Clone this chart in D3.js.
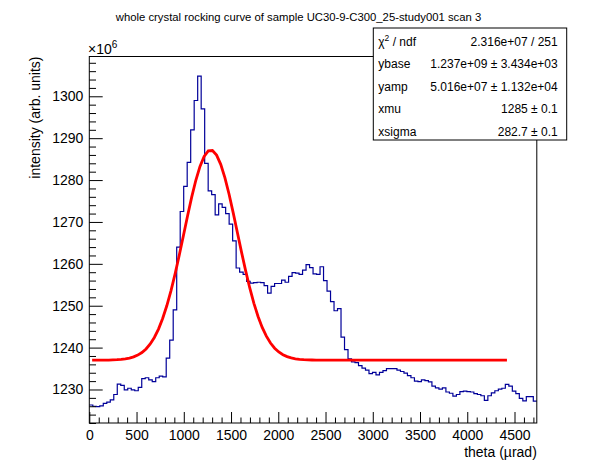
<!DOCTYPE html>
<html><head><meta charset="utf-8">
<script src="https://cdn.jsdelivr.net/npm/d3@7"></script>
<style>
body{margin:0;background:#fff}
svg{display:block}
text{font-family:"Liberation Sans",Arial,Helvetica,sans-serif}
</style>
</head><body>
<svg id="c" width="596" height="472"></svg>
<script>
// ---- data ----
const titleText = "whole crystal rocking curve of sample UC30-9-C300_25-study001 scan 3";
const xTitle = "theta (\u00b5rad)";
const yTitle = "intensity (arb. units)";
const binWidth = 37;            // µrad
const xDomain = [0, 4736];
const yDomain = [1222, 1309.5]; // ×10^6
const xMajorTicks = [0, 500, 1000, 1500, 2000, 2500, 3000, 3500, 4000, 4500];
const yMajorTicks = [1230, 1240, 1250, 1260, 1270, 1280, 1290, 1300];
// bin contents (×10^6)
const counts = [
 1226.3,1226.0,1225.9,1226.1,1226.7,1227.0,1227.5,1228.8,1231.3,1231.0,
 1229.9,1230.3,1229.9,1229.7,1230.5,1232.6,1232.8,1232.3,1231.9,1232.8,
 1233.2,1233.0,1237.5,1241.8,1249.0,1264.0,1272.5,1278.5,1284.2,1292.0,
 1299.0,1304.8,1297.0,1284.0,1277.4,1276.5,1271.7,1274.3,1273.5,1272.0,
 1269.5,1265.5,1259.0,1258.0,1257.5,1255.8,1255.4,1255.5,1255.6,1255.5,
 1254.8,1253.0,1254.6,1255.3,1255.3,1256.1,1255.6,1257.0,1257.9,1257.8,
 1257.5,1258.5,1259.8,1259.1,1257.6,1257.5,1259.3,1256.0,1253.5,1251.0,
 1248.8,1249.3,1242.5,1239.5,1237.3,1236.6,1236.4,1235.7,1235.1,1234.6,
 1233.8,1234.1,1233.5,1234.1,1234.5,1235.0,1235.0,1235.0,1234.6,1234.3,
 1233.9,1233.3,1232.8,1232.0,1231.9,1232.3,1232.1,1231.8,1230.8,1230.4,
 1230.1,1230.4,1229.4,1229.1,1228.4,1228.8,1229.5,1229.6,1229.5,1229.4,
 1229.0,1228.8,1228.5,1227.4,1228.5,1229.2,1229.7,1230.1,1230.3,1231.2,
 1230.8,1229.6,1229.0,1227.9,1227.3,1228.3,1228.3,1227.2
];
// fit: y = ybase + yamp*exp(-(x-xmu)^2/(2 xsigma^2)), in raw units
const fitNames  = ["ybase", "yamp", "xmu", "xsigma"];
const fitValues = [1.237e9, 5.016e7, 1285, 282.7];
const fitRange  = [30, 4420];
const statLabels = ["\u03c7|2| / ndf", "ybase", "yamp", "xmu", "xsigma"];
const statValues = ["2.316e+07 / 251", "1.237e+09 \u00b1 3.434e+03", "5.016e+07 \u00b1 1.132e+04", "1285 \u00b1 0.1", "282.7 \u00b1 0.1"];

// ---- layout ----
const svg = d3.select("#c");
const L = 89.3, R = 536.8, T = 56.5, B = 423;
const x = d3.scaleLinear().domain(xDomain).range([L, R]);
const y = d3.scaleLinear().domain(yDomain).range([B, T]);

// title
svg.append("text").attr("x", 298.5).attr("y", 21).attr("text-anchor", "middle")
  .attr("font-size", "11.3px").text(titleText);

// histogram
const pts = counts.map((c, i) => [i * binWidth, c]);
pts.push([counts.length * binWidth, counts[counts.length - 1]]);
const histLine = d3.line().x(d => x(d[0])).y(d => y(d[1])).curve(d3.curveStepAfter);
svg.append("path").attr("d", histLine(pts)).attr("fill", "none")
  .attr("stroke", "#000099").attr("stroke-width", 1.2);

// fit curve
const p = Object.fromEntries(fitNames.map((n, i) => [n, fitValues[i]]));
const nPts = 100;
const fitPts = d3.range(nPts + 1).map(k => {
  const xv = fitRange[0] + (fitRange[1] - fitRange[0]) * k / nPts;
  const yv = p.ybase + p.yamp * Math.exp(-((xv - p.xmu) ** 2) / (2 * p.xsigma ** 2));
  return [xv, yv / 1e6];
});
svg.append("path").attr("d", d3.line().x(d => x(d[0])).y(d => y(d[1]))(fitPts))
  .attr("fill", "none").attr("stroke", "#ff0000").attr("stroke-width", 2.8);

// frame
svg.append("rect").attr("x", L).attr("y", T).attr("width", R - L).attr("height", B - T)
  .attr("fill", "none").attr("stroke", "#000").attr("stroke-width", 1);

// x axis
const xMinor = d3.range(0, xDomain[1], 100).filter(v => v % 500 !== 0);
const gx = svg.append("g").attr("transform", `translate(0,${B})`);
gx.call(d3.axisBottom(x).tickValues(xMajorTicks).tickSize(-11).tickPadding(7).tickFormat(d3.format("d")));
gx.append("g").call(d3.axisBottom(x).tickValues(xMinor).tickSize(-5.5).tickFormat(""));
gx.selectAll(".domain").remove();
gx.selectAll("text").attr("font-size", "14px").attr("fill", "#000").attr("font-family", "Liberation Sans, Arial, sans-serif");
gx.selectAll("line").attr("stroke", "#000");

// y axis
const yMinor = d3.range(1222, 1309.5, 2).filter(v => v % 10 !== 0);
const gy = svg.append("g").attr("transform", `translate(${L},0)`);
gy.call(d3.axisLeft(y).tickValues(yMajorTicks).tickSize(-13.4).tickPadding(6).tickFormat(d3.format("d")));
gy.append("g").call(d3.axisLeft(y).tickValues(yMinor).tickSize(-6.7).tickFormat(""));
gy.selectAll(".domain").remove();
gy.selectAll("text").attr("font-size", "14px").attr("fill", "#000").attr("font-family", "Liberation Sans, Arial, sans-serif");
gy.selectAll("line").attr("stroke", "#000");

// exponent
const ex = svg.append("text").attr("x", 88).attr("y", 54).attr("font-size", "14px");
ex.append("tspan").text("\u00d710");
ex.append("tspan").attr("font-size", "10px").attr("dy", -6).text("6");

// axis titles
svg.append("text").attr("x", R).attr("y", 457).attr("text-anchor", "end")
  .attr("font-size", "14px").text(xTitle);
svg.append("text").attr("transform", `translate(40,${T}) rotate(-90)`).attr("text-anchor", "end")
  .attr("font-size", "14px").text(yTitle);

// stats box
const bx = 373.3, by = 28, bw = 193.4, bh = 112;
svg.append("rect").attr("x", bx).attr("y", by).attr("width", bw).attr("height", bh)
  .attr("fill", "#fff").attr("stroke", "#000").attr("stroke-width", 1);
const rowH = 22.6;
statLabels.forEach((lab, i) => {
  const yy = by + 17.5 + rowH * i;
  const t = svg.append("text").attr("x", bx + 5).attr("y", yy).attr("font-size", "12px");
  const parts = lab.split("|");
  t.append("tspan").text(parts[0]);
  if (parts.length > 1) {
    t.append("tspan").attr("font-size", "8.5px").attr("dy", -5).text(parts[1]);
    t.append("tspan").attr("dy", 5).text(parts[2]);
  }
  svg.append("text").attr("x", bx + bw - 9).attr("y", yy).attr("text-anchor", "end")
    .attr("font-size", "12px").text(statValues[i]);
});
</script>
</body></html>
